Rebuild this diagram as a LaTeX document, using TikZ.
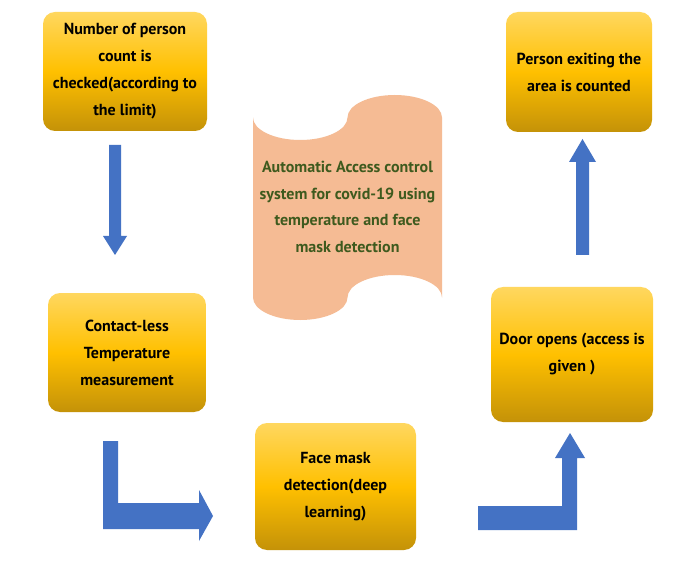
\documentclass[tikz,border=0pt]{standalone}
\usepackage{fontspec}
\setmainfont{PT Sans}
\definecolor{goldtop}{RGB}{255,215,95}
\definecolor{goldmid}{RGB}{255,192,0}
\definecolor{goldbot}{RGB}{196,146,8}
\definecolor{arrowblue}{RGB}{68,114,196}
\definecolor{peach}{RGB}{245,187,148}
\definecolor{darkgreen}{RGB}{62,90,30}
\begin{document}
\begin{tikzpicture}[x=1pt,y=-1pt,
  goldbox/.style={rounded corners=12pt, top color=goldtop, bottom color=goldbot, middle color=goldmid,
    align=center, font=\fontsize{16}{27}\selectfont\bfseries, text=black, inner sep=0pt},
  blockarrow/.style={fill=arrowblue, draw=none}]
\useasboundingbox (0,0) rectangle (683,588);
\fill[white] (0,0) rectangle (683,588);
% boxes
\node[goldbox, minimum width=164pt, minimum height=119pt] (b1) at (125,71.5)
  {Number of person\\count is\\checked(according to\\the limit)};
\node[goldbox, minimum width=158pt, minimum height=119pt] (b2) at (127,352.5)
  {Contact-less\\Temperature\\measurement};
\node[goldbox, minimum width=161pt, minimum height=127pt] (b3) at (335.5,486.5)
  {Face mask\\detection(deep\\learning)};
\node[goldbox, minimum width=162pt, minimum height=135pt] (b4) at (572,354.5)
  {Door opens (access is\\given )};
\node[goldbox, minimum width=146pt, minimum height=120pt] (b5) at (579,72)
  {Person exiting the\\area is counted};
% punched tape
\fill[peach] (253,117.5) .. controls (253,129.9) and (274.15,140) .. (300.25,140)
  .. controls (326.35,140) and (347.5,129.9) .. (347.5,117.5)
  .. controls (347.5,105.1) and (368.65,95) .. (394.75,95)
  .. controls (420.85,95) and (442,105.1) .. (442,117.5)
  -- (442,297.5)
  .. controls (442,285.1) and (420.85,275) .. (394.75,275)
  .. controls (368.65,275) and (347.5,285.1) .. (347.5,297.5)
  .. controls (347.5,309.9) and (326.35,320) .. (300.25,320)
  .. controls (274.15,320) and (253,309.9) .. (253,297.5) -- cycle;
\node[align=center, text=darkgreen, font=\fontsize{16}{26.5}\selectfont\bfseries] (title) at (347.5,207)
  {Automatic Access control\\system for covid-19 using\\temperature and face\\mask detection};
% arrows
\fill[blockarrow] (109,145) -- (121,145) -- (121,236) -- (127,236) -- (115,255) -- (103,236) -- (109,236) -- cycle;
\fill[blockarrow] (103,441) -- (118,441) -- (118,503) -- (199,503) -- (199,490) -- (213,516) -- (199,541) -- (199,529) -- (103,529) -- cycle;
\fill[blockarrow] (478,506) -- (562,506) -- (562,458) -- (555,458) -- (570,433) -- (585,458) -- (577,458) -- (577,530) -- (478,530) -- cycle;
\fill[blockarrow] (576,255) -- (589,255) -- (589,162) -- (596,162) -- (582.5,139) -- (569,162) -- (576,162) -- cycle;
\end{tikzpicture}
\end{document}
